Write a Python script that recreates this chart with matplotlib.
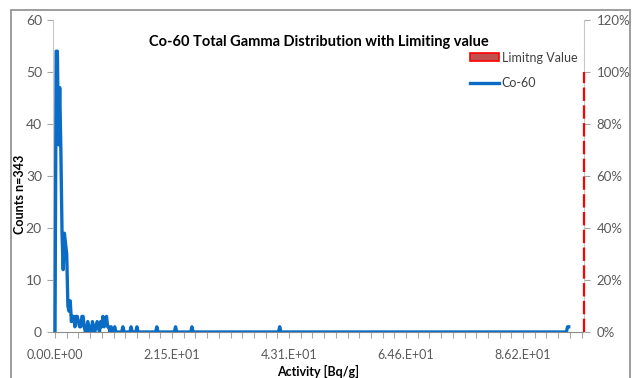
import numpy as np
import matplotlib
matplotlib.use("Agg")
import matplotlib.pyplot as plt
from matplotlib.patches import Rectangle, Patch
from matplotlib.lines import Line2D

plt.rcParams['font.family'] = ['Lato', 'DejaVu Sans']

# histogram bins (Bq/g)
bin_width = 0.2155
n_bins = 440
# non-empty bins: index -> count
hit_bins = [1, 2, 3, 4, 5, 6, 7, 8, 9, 10, 11, 12, 13, 14, 15, 16, 17, 18, 19, 20,
            21, 22, 23, 24, 25, 28, 29, 32, 33, 35, 36, 37, 39, 40, 41, 42, 43, 44,
            45, 46, 48, 51, 58, 65, 70, 87, 103, 117, 192, 438, 439]
hit_counts = [54, 54, 36, 47, 35, 19, 12, 19, 17, 15, 5, 4, 6, 2, 3, 3, 1, 3, 3, 2,
              1, 1, 3, 3, 1, 2, 1, 2, 1, 1, 2, 1, 2, 1, 3, 1, 2, 3,
              1, 1, 1, 1, 1, 1, 1, 1, 1, 1, 1, 1, 1]

limit_value = 97.4
limit_pct = [0, 100]

x_tick_vals = [0, 21.55, 43.1, 64.65, 86.2]
x_tick_labels = ["0.00.E+00", "2.15.E+01", "4.31.E+01", "6.46.E+01", "8.62.E+01"]

activity = np.arange(n_bins) * bin_width
counts = np.zeros(n_bins)
counts[hit_bins] = hit_counts

W, H = 632, 378
fig = plt.figure(figsize=(W / 100, H / 100), dpi=100)
ax = fig.add_axes([53 / W, 1 - 332 / H, (584 - 53) / W, (332 - 20) / H])
ax2 = ax.twinx()

# chart frame
fig.patches.append(Rectangle((11 / W, -0.02), (630 - 11) / W, 1.02 - 10 / H,
                             transform=fig.transFigure, fill=False,
                             edgecolor='#8c8c8c', linewidth=1.2))

blue = '#0a6cc4'
ax.plot(activity, counts, color=blue, lw=2.4, solid_joinstyle='round', zorder=3)
ax2.plot([limit_value, limit_value], limit_pct, color='#ff0000', lw=1.6,
         dashes=(6, 2), clip_on=False, zorder=4)

ax.set_xlim(-0.37, 97.42)
ax.set_ylim(0, 60)
ax2.set_ylim(0, 120)

ax.set_yticks(range(0, 61, 10))
ax2.set_yticks(range(0, 121, 20))
ax2.set_yticklabels([f"{v}%" for v in range(0, 121, 20)])
ax.set_xticks(x_tick_vals)
ax.set_xticklabels(x_tick_labels)
ax.set_xticks(np.arange(0, 97.4, 2.155), minor=True)

grey = '#595959'
for a in (ax, ax2):
    a.spines['top'].set_visible(False)
    a.tick_params(colors='#a6a6a6', labelcolor=grey, labelsize=10, length=4,
                  width=0.8, pad=5)
    a.tick_params(which='minor', colors='#a6a6a6', length=4, width=0.8)
ax.spines['left'].set_color('#c8c8c8')
ax.spines['bottom'].set_color('#8c8c8c')
ax.spines['right'].set_visible(False)
ax2.spines['left'].set_visible(False)
ax2.spines['bottom'].set_visible(False)
ax2.spines['right'].set_color('#c8c8c8')
ax2.tick_params(axis='y', pad=5, labelsize=9.5)
ax.tick_params(axis='y', pad=4)
ax.tick_params(axis='x', labelsize=9, pad=8)

ax.set_title("Co-60 Total Gamma Distribution with Limiting value",
             fontsize=10.5, fontweight='bold', pad=-19, y=1.0)
ax.set_ylabel("Counts n=343", fontsize=9, fontweight='bold')
ax.yaxis.set_label_coords(-0.05, 0.44)
ax.set_xlabel("Activity [Bq/g]", fontsize=9, fontweight='bold', labelpad=3)

handles = [Patch(facecolor='#c0504d', edgecolor='#ff0000', linewidth=1.2),
           Line2D([0], [0], color=blue, lw=2.4)]
ax.legend(handles, ["Limitng Value", "Co-60"], loc='upper left',
          bbox_to_anchor=(0.765, 0.935), frameon=False, fontsize=9,
          handlelength=2.3, handleheight=0.6, handletextpad=0.2,
          labelspacing=1.1, labelcolor='#404040')

fig.savefig("out.png", dpi=100)
